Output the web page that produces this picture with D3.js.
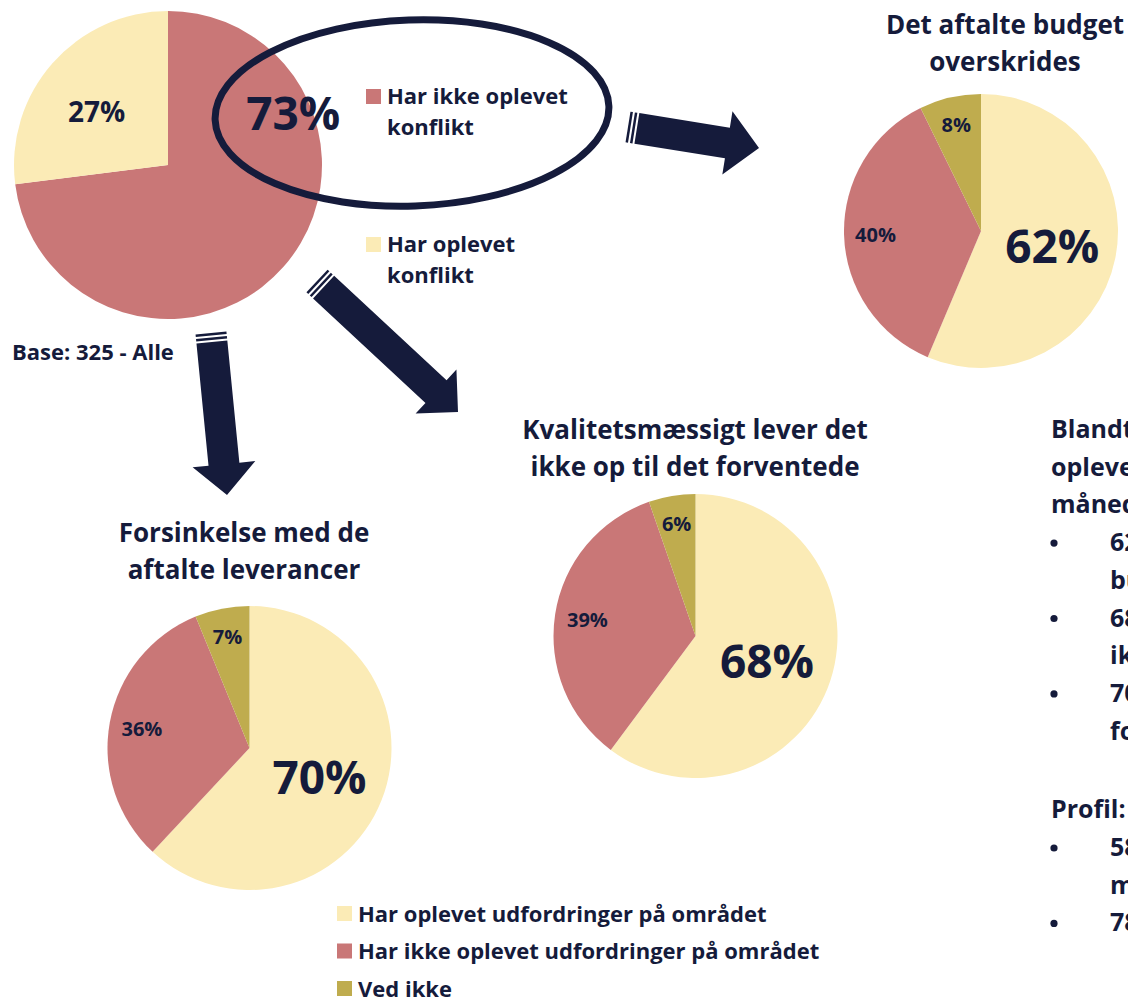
<!DOCTYPE html>
<head>
  <meta charset="utf-8">
  <script src="https://d3js.org/d3.v7.min.js"></script>
  <style>
    body { margin:0; background:#fff; }
    svg text { font-family: "Open Sans", "DejaVu Sans", sans-serif; font-weight: 700; fill: #151b3b; }
  </style>
</head>
<body>
<script>
// data
var overallCategories = ["Har ikke oplevet konflikt", "Har oplevet konflikt"];
var overallValues = [73, 27];
var areaCategories = ["Har oplevet udfordringer på området", "Har ikke oplevet udfordringer på området", "Ved ikke"];
var budgetValues = [62, 40, 8];
var kvalitetValues = [68, 39, 6];
var forsinkelseValues = [70, 36, 7];
var baseText = "Base: 325 - Alle";
var sideText = [
  {type: "head", lines: ["Blandt dem, der har", "oplevet konflikt de seneste 12", "måneder angiver:"]},
  {type: "bullet", lines: ["62% at det aftalte", "budget overskrides"]},
  {type: "bullet", lines: ["68% at kvaliteten", "ikke lever op til det forventede"]},
  {type: "bullet", lines: ["70% at der er", "forsinkelse med de aftalte leverancer"]},
  {type: "gap"},
  {type: "head", lines: ["Profil:"]},
  {type: "bullet", lines: ["58% er", "mellemstore virksomheder"]},
  {type: "bullet", lines: ["78% er private virksomheder"]}
];

var width = 1128, height = 997;
var navy = "#151b3b";
var color = d3.scaleOrdinal()
  .domain(["yes", "no", "dk"])
  .range(["#fbebb6", "#c97777", "#bfac4e"]);

var svg = d3.select("body").append("svg")
  .attr("width", width)
  .attr("height", height);

var pie = d3.pie().sort(null).value(function(d) { return d; });

function drawPie(values, keys, cx, cy, r) {
  var g = svg.append("g").attr("transform", "translate(" + cx + "," + cy + ")");
  var arcs = pie(values);
  var arc = d3.arc().innerRadius(0).outerRadius(r);
  g.selectAll("path").data(arcs).enter().append("path")
    .attr("d", arc)
    .attr("fill", function(d, i) { return color(keys[i]); });
  return {g: g, arcs: arcs, r: r};
}

function labelAt(p, i, frac, size, text, shift) {
  var a = p.arcs[i];
  var mid = (a.startAngle + a.endAngle) / 2 + (shift || 0);
  var pt = d3.pointRadial(mid, p.r * frac);
  p.g.append("text")
    .attr("x", pt[0]).attr("y", pt[1])
    .attr("text-anchor", "middle")
    .attr("dominant-baseline", "central")
    .attr("font-size", size)
    .text(text);
}

// ---- overall pie (top left)
var p0 = drawPie(overallValues, ["no", "yes"], 168, 165, 154);
labelAt(p0, 1, 0.58, 28, overallValues[1] + "%", -0.08);
var big = d3.pointRadial(67 * Math.PI / 180, 136);
p0.g.append("text")
  .attr("x", big[0]).attr("y", big[1])
  .attr("text-anchor", "middle").attr("dominant-baseline", "central")
  .attr("font-size", 46)
  .text(overallValues[0] + "%");

svg.append("ellipse")
  .attr("cx", 412).attr("cy", 113).attr("rx", 197).attr("ry", 93)
  .attr("transform", "rotate(-2,412,113)")
  .attr("fill", "none").attr("stroke", navy).attr("stroke-width", 7);

var leg0 = svg.append("g");
[["no", 89], ["yes", 237]].forEach(function(row, i) {
  leg0.append("rect").attr("x", 366).attr("y", row[1]).attr("width", 15).attr("height", 15)
    .attr("fill", color(row[0]));
  var words = overallCategories[i].split(" konflikt")[0];
  leg0.append("text").attr("x", 387).attr("y", row[1] + 15).attr("font-size", 22).text(words);
  leg0.append("text").attr("x", 387).attr("y", row[1] + 46).attr("font-size", 22).text("konflikt");
});

svg.append("text").attr("x", 12).attr("y", 360).attr("font-size", 22).text(baseText);

// ---- arrows
function arrow(x0, y0, x1, y1, bw, hw, hl) {
  var dx = x1 - x0, dy = y1 - y0;
  var L = Math.sqrt(dx * dx + dy * dy);
  var ang = Math.atan2(dy, dx) * 180 / Math.PI;
  var g = svg.append("g").attr("transform", "translate(" + x0 + "," + y0 + ") rotate(" + ang + ")");
  g.append("rect").attr("x", 0).attr("y", -bw / 2).attr("width", 2.5).attr("height", bw).attr("fill", navy);
  g.append("rect").attr("x", 4.5).attr("y", -bw / 2).attr("width", 2.5).attr("height", bw).attr("fill", navy);
  var pts = [[9, -bw / 2], [L - hl, -bw / 2], [L - hl, -hw / 2], [L, 0], [L - hl, hw / 2], [L - hl, bw / 2], [9, bw / 2]];
  g.append("path").attr("d", d3.line()(pts) + "Z").attr("fill", navy);
}
arrow(628, 127, 759, 148, 31, 64, 32);
arrow(211, 333, 227, 495, 31, 63, 31);
arrow(317, 281, 458, 412, 31, 60, 30);

// ---- three area pies
var keys3 = ["yes", "no", "dk"];
function areaPie(values, title, cx, cy, r, tx, ty) {
  var p = drawPie(values, keys3, cx, cy, r);
  labelAt(p, 0, 0.53, 46, values[0] + "%");
  labelAt(p, 1, 0.77, 20, values[1] + "%");
  labelAt(p, 2, 0.8, 20, values[2] + "%");
  title.forEach(function(t, i) {
    svg.append("text").attr("x", tx).attr("y", ty + i * 36.5)
      .attr("text-anchor", "middle").attr("font-size", 26).text(t);
  });
}
areaPie(budgetValues, ["Det aftalte budget", "overskrides"], 981, 231, 137, 1005, 34);
areaPie(kvalitetValues, ["Kvalitetsmæssigt lever det", "ikke op til det forventede"], 695.5, 636, 142, 695, 439);
areaPie(forsinkelseValues, ["Forsinkelse med de", "aftalte leverancer"], 249.5, 748, 142, 244, 542);

// ---- bottom legend
var leg = svg.append("g");
areaCategories.forEach(function(c, i) {
  var y = 906 + i * 37.5;
  leg.append("rect").attr("x", 337).attr("y", y).attr("width", 15).attr("height", 15).attr("fill", color(keys3[i]));
  leg.append("text").attr("x", 358).attr("y", y + 15.5).attr("font-size", 22).text(c);
});

// ---- side text (cut at the right edge, as in the source)
var side = svg.append("g");
var y = 438;
sideText.forEach(function(block) {
  if (block.type === "gap") { y += 41; return; }
  block.lines.forEach(function(line, i) {
    if (block.type === "bullet") {
      if (i === 0) side.append("circle").attr("cx", 1054).attr("cy", y - 8).attr("r", 3.6).attr("fill", navy);
      side.append("text").attr("x", 1110).attr("y", y).attr("font-size", 25).text(line);
    } else {
      side.append("text").attr("x", 1051).attr("y", y).attr("font-size", 25).text(line);
    }
    y += 37.7;
  });
});
</script>
</body>
